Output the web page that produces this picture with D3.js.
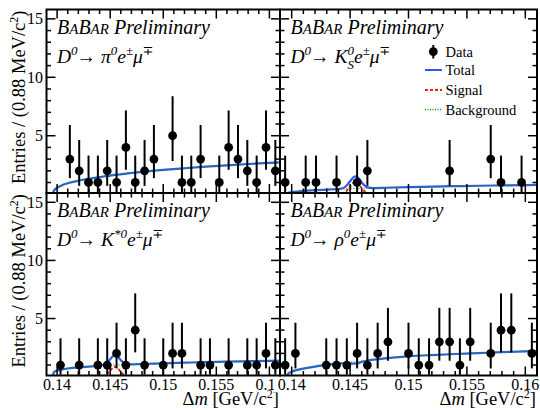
<!DOCTYPE html>
<html>
<head>
<meta charset="utf-8">
<script src="https://cdn.jsdelivr.net/npm/d3@7/dist/d3.min.js"></script>
<style>
  body { margin: 0; background: #fff; }
  svg { display: block; }
  svg text { font-family: "Liberation Serif", "DejaVu Serif", serif; }
</style>
</head>
<body>
<svg id="chart" width="540" height="410"></svg>
<script>
// histogram binning (0.88 MeV bins)
const binStart = 0.139;
const binWidth = 0.00088;
const xDomain = [0.139, 0.161];
const yDomain = [0.1, 15.8];

// entries per bin
const countsPi0 = [0, 0, 3, 2, 1, 1, 2, 1, 4, 1, 2, 3, 0, 5, 1, 1, 3, 0, 1, 4, 3, 2, 1, 4, 2];
const countsKs = [1, 0, 1, 1, 0, 1, 0, 1, 2, 0, 0, 0, 0, 0, 0, 0, 2, 0, 0, 0, 3, 1, 0, 1, 0];
const countsKst = [0, 1, 0, 1, 0, 1, 1, 2, 1, 4, 1, 0, 1, 2, 2, 0, 1, 1, 0, 1, 0, 1, 1, 2, 1];
const countsRho = [1, 2, 0, 0, 1, 1, 1, 2, 1, 2, 3, 0, 2, 1, 1, 3, 3, 1, 3, 0, 2, 4, 4, 0, 2];

// poisson error bars, indexed by count
const errLow = [0, 0.83, 1.29, 1.63, 1.91, 2.16];
const errHigh = [0, 2.30, 2.64, 2.92, 3.16, 3.38];

// fit curves
const fitGrid = [0.13957, 0.1397, 0.1400, 0.1405, 0.1410, 0.1420, 0.1430, 0.1440, 0.1445, 0.1450, 0.1453, 0.1455,
  0.1457, 0.1460, 0.1465, 0.1470, 0.1480, 0.1500, 0.1520, 0.1540, 0.1560, 0.1580, 0.1600, 0.1620];

const totPi0 = [0, 0.30, 0.55, 0.78, 0.93, 1.15, 1.32, 1.46, 1.53, 1.59, 1.63, 1.65, 1.67, 1.70, 1.76, 1.81, 1.91, 2.08, 2.22, 2.35, 2.47, 2.58, 2.68, 2.77];
const sigPi0 = [0, 0, 0, 0, 0, 0, 0, 0, 0, 0, 0, 0, 0, 0, 0, 0, 0, 0, 0, 0, 0, 0, 0, 0];
const bkgPi0 = [0, 0.30, 0.55, 0.78, 0.93, 1.15, 1.32, 1.46, 1.53, 1.59, 1.63, 1.65, 1.67, 1.70, 1.76, 1.81, 1.91, 2.08, 2.22, 2.35, 2.47, 2.58, 2.68, 2.77];

const totKs = [0, 0.11, 0.17, 0.23, 0.28, 0.34, 0.39, 0.44, 0.56, 1.10, 1.46, 1.52, 1.39, 1.00, 0.58, 0.52, 0.55, 0.60, 0.64, 0.68, 0.72, 0.75, 0.78, 0.81];
const sigKs = [0, 0, 0, 0, 0, 0, 0, 0.01, 0.11, 0.64, 0.99, 1.04, 0.90, 0.50, 0.07, 0, 0, 0, 0, 0, 0, 0, 0, 0];
const bkgKs = [0, 0.11, 0.17, 0.23, 0.28, 0.34, 0.39, 0.43, 0.45, 0.46, 0.47, 0.48, 0.49, 0.50, 0.51, 0.52, 0.55, 0.60, 0.64, 0.68, 0.72, 0.75, 0.78, 0.81];

const totKst = [0, 0.38, 0.52, 0.63, 0.70, 0.80, 0.87, 0.94, 1.04, 1.50, 1.79, 1.84, 1.74, 1.42, 1.10, 1.06, 1.09, 1.15, 1.20, 1.25, 1.29, 1.33, 1.36, 1.39];
const sigKst = [0, 0, 0, 0, 0, 0, 0, 0.01, 0.09, 0.52, 0.80, 0.84, 0.73, 0.40, 0.06, 0, 0, 0, 0, 0, 0, 0, 0, 0];
const bkgKst = [0, 0.38, 0.52, 0.63, 0.70, 0.80, 0.87, 0.93, 0.95, 0.98, 0.99, 1.00, 1.01, 1.02, 1.04, 1.06, 1.09, 1.15, 1.20, 1.25, 1.29, 1.33, 1.36, 1.39];

const totRho = [0, 0.25, 0.42, 0.58, 0.69, 0.87, 1.01, 1.12, 1.16, 1.14, 1.12, 1.13, 1.17, 1.27, 1.39, 1.46, 1.58, 1.75, 1.86, 1.95, 2.03, 2.11, 2.18, 2.25];
const sigRho = [0, 0, 0, 0, 0, 0, 0, 0, -0.02, -0.09, -0.14, -0.15, -0.13, -0.07, -0.01, 0, 0, 0, 0, 0, 0, 0, 0, 0];
const bkgRho = [0, 0.25, 0.42, 0.58, 0.69, 0.87, 1.01, 1.12, 1.18, 1.23, 1.26, 1.28, 1.30, 1.34, 1.40, 1.46, 1.58, 1.75, 1.86, 1.95, 2.03, 2.11, 2.18, 2.25];

// axis ticks
const xMajor = [0.14, 0.145, 0.15, 0.155, 0.16];
const xMinor = d3.range(0.139, 0.1615, 0.001);
const yMajor = [5, 10, 15];
const yMinor = d3.range(1, 16, 1);

// decay labels: [text, style] pieces
const labelPi0 = [['D', ''], ['0', 'sup'], ['\u2192 ', 'up'], ['\u03c0', ''], ['0', 'sup'], ['e', ''], ['\u00b1', 'sup'], ['\u03bc', ''], ['\u2213', 'sup']];
const labelKs = [['D', ''], ['0', 'sup'], ['\u2192 ', 'up'], ['K', ''], ['0', 'sup'], ['S', 'sub'], ['e', ''], ['\u00b1', 'sup'], ['\u03bc', ''], ['\u2213', 'sup']];
const labelKst = [['D', ''], ['0', 'sup'], ['\u2192 ', 'up'], ['K', ''], ['*0', 'sup'], ['e', ''], ['\u00b1', 'sup'], ['\u03bc', ''], ['\u2213', 'sup']];
const labelRho = [['D', ''], ['0', 'sup'], ['\u2192 ', 'up'], ['\u03c1', ''], ['0', 'sup'], ['e', ''], ['\u00b1', 'sup'], ['\u03bc', ''], ['\u2213', 'sup']];

const serif = '"Liberation Serif", "DejaVu Serif", serif';
const colTotal = '#3355ff';
const colSignal = '#ff1a1a';
const colBkg = '#00a000';

const svg = d3.select('#chart').attr('font-family', serif);

const panels = [
  { id: 'pi0', x0: 46.5, x1: 280, y0: 9.5, y1: 193, counts: countsPi0, tot: totPi0, sig: sigPi0, bkg: bkgPi0, label: labelPi0, left: true, bottom: false },
  { id: 'ks', x0: 280, x1: 537, y0: 9.5, y1: 193, counts: countsKs, tot: totKs, sig: sigKs, bkg: bkgKs, label: labelKs, left: false, bottom: false, legend: true },
  { id: 'kst', x0: 46.5, x1: 280, y0: 193, y1: 375.5, counts: countsKst, tot: totKst, sig: sigKst, bkg: bkgKst, label: labelKst, left: true, bottom: true },
  { id: 'rho', x0: 280, x1: 537, y0: 193, y1: 375.5, counts: countsRho, tot: totRho, sig: sigRho, bkg: bkgRho, label: labelRho, left: false, bottom: true },
];

function drawCurves(g, p, x, y) {
  const line = d3.line()
    .x(d => x(d[0]))
    .y(d => y(d[1]))
    .curve(d3.curveMonotoneX);
  const curves = g.append('g').attr('clip-path', `url(#clip-${p.id})`);
  curves.append('path')
    .attr('d', line(d3.zip(fitGrid, p.tot)))
    .attr('fill', 'none')
    .attr('stroke', colTotal)
    .attr('stroke-width', 2.2);
  curves.append('path')
    .attr('d', line(d3.zip(fitGrid, p.sig)))
    .attr('fill', 'none')
    .attr('stroke', colSignal)
    .attr('stroke-width', 2)
    .attr('stroke-dasharray', '3,2');
  curves.append('path')
    .attr('d', line(d3.zip(fitGrid, p.bkg)))
    .attr('fill', 'none')
    .attr('stroke', colBkg)
    .attr('stroke-width', 1.2)
    .attr('stroke-dasharray', '1,1.5');
}

function drawData(g, p, x, y) {
  const pts = p.counts
    .map((n, i) => ({ n, c: binStart + binWidth * (i + 0.5) }))
    .filter(d => d.n > 0);
  const pg = g.append('g').attr('class', 'data');
  pg.selectAll('line')
    .data(pts)
    .enter()
    .append('line')
    .attr('x1', d => x(d.c))
    .attr('x2', d => x(d.c))
    .attr('y1', d => y(Math.max(d.n - errLow[d.n], yDomain[0])))
    .attr('y2', d => y(d.n + errHigh[d.n]))
    .attr('stroke', '#000')
    .attr('stroke-width', 2);
  pg.selectAll('circle')
    .data(pts)
    .enter()
    .append('circle')
    .attr('cx', d => x(d.c))
    .attr('cy', d => y(d.n))
    .attr('r', 4.4)
    .attr('fill', '#000');
}

function drawTicks(g, p, x, y) {
  const t = g.append('g').attr('stroke', '#000').attr('stroke-width', 1.5);
  const xt = xMinor.map(v => ({ v, len: xMajor.some(m => Math.abs(m - v) < 1e-6) ? 9 : 4.5 }));
  const yt = yMinor.map(v => ({ v, len: yMajor.includes(v) ? 9 : 4.5 }));
  xt.filter(d => x(d.v) > p.x0 + 1 && x(d.v) < p.x1 - 1).forEach((d) => {
    t.append('line').attr('x1', x(d.v)).attr('x2', x(d.v)).attr('y1', p.y1).attr('y2', p.y1 - d.len);
    t.append('line').attr('x1', x(d.v)).attr('x2', x(d.v)).attr('y1', p.y0).attr('y2', p.y0 + d.len);
  });
  yt.filter(d => y(d.v) > p.y0 + 1 && y(d.v) < p.y1 - 1).forEach((d) => {
    t.append('line').attr('x1', p.x0).attr('x2', p.x0 + d.len).attr('y1', y(d.v)).attr('y2', y(d.v));
    t.append('line').attr('x1', p.x1).attr('x2', p.x1 - d.len).attr('y1', y(d.v)).attr('y2', y(d.v));
  });
}

function drawAxisLabels(g, p, x, y) {
  if (p.left) {
    g.selectAll('.ylab')
      .data(yMajor)
      .enter()
      .append('text')
      .attr('class', 'ylab')
      .attr('x', p.x0 - 3.5)
      .attr('y', d => y(d))
      .attr('dy', '0.35em')
      .attr('text-anchor', 'end')
      .attr('font-size', 16)
      .text(d => d);
    g.append('text')
      .attr('transform', `translate(25, ${p.y0 + 1}) rotate(-90)`)
      .attr('text-anchor', 'end')
      .attr('font-size', 18.5)
      .call((txt) => {
        txt.append('tspan').text('Entries / (0.88 MeV/c');
        txt.append('tspan').attr('font-size', 12).attr('dy', -7).text('2');
        txt.append('tspan').attr('dy', 7).text(')');
      });
  }
  if (p.bottom) {
    if (!p.left) {
      // right pad covers the overhanging last label of the left pad
      g.append('rect')
        .attr('x', 274).attr('y', p.y1 + 2)
        .attr('width', 540 - 274).attr('height', 15)
        .attr('fill', '#fff');
    }
    g.selectAll('.xlab')
      .data(xMajor)
      .enter()
      .append('text')
      .attr('class', 'xlab')
      .attr('x', d => x(d))
      .attr('y', 390)
      .attr('text-anchor', 'middle')
      .attr('font-size', 16)
      .text(d => d3.format('')(d));
    g.append('text')
      .attr('x', p.x1 - 1)
      .attr('y', 405)
      .attr('text-anchor', 'end')
      .attr('font-size', 18.5)
      .call((txt) => {
        txt.append('tspan').text('\u0394');
        txt.append('tspan').attr('font-style', 'italic').text('m');
        txt.append('tspan').text(' [GeV/c');
        txt.append('tspan').attr('font-size', 12).attr('dy', -7).text('2');
        txt.append('tspan').attr('dy', 7).text(']');
      });
  }
}

function drawTitle(g, p) {
  const tx = p.x0 + 10.5;
  const title = g.append('text')
    .attr('x', tx)
    .attr('y', p.y0 + 24)
    .attr('font-style', 'italic')
    .attr('font-size', 20);
  title.append('tspan').text('B');
  title.append('tspan').attr('font-size', 15).text('A');
  title.append('tspan').text('B');
  title.append('tspan').attr('font-size', 15).text('AR');
  title.append('tspan').text(' Preliminary');

  const decay = g.append('text')
    .attr('x', tx)
    .attr('y', p.y0 + 53)
    .attr('font-style', 'italic')
    .attr('font-size', 19.5);
  let shift = 0;
  let lastSupWidth = 0;
  p.label.forEach(([s, kind]) => {
    const span = decay.append('tspan').text(s);
    if (kind === 'sup') {
      span.attr('font-size', 13).attr('dy', -8 - shift);
      shift = -8;
      lastSupWidth = 6.5 * s.length;
    } else if (kind === 'sub') {
      span.attr('font-size', 13).attr('dy', 14).attr('dx', -lastSupWidth);
      shift = 6;
    } else {
      span.attr('dy', -shift);
      shift = 0;
      if (kind === 'up') span.attr('font-style', 'normal').attr('dx', -1);
    }
  });
}

function drawLegend(g) {
  const lx = 425;
  const tx = 445.5;
  const leg = g.append('g').attr('font-size', 14.5);
  leg.append('line').attr('x1', 433.3).attr('x2', 433.3).attr('y1', 45).attr('y2', 58.5)
    .attr('stroke', '#000').attr('stroke-width', 2);
  leg.append('circle').attr('cx', 433.3).attr('cy', 51.7).attr('r', 4.4).attr('fill', '#000');
  leg.append('text').attr('x', tx).attr('y', 56.5).text('Data');
  leg.append('line').attr('x1', lx).attr('x2', lx + 17).attr('y1', 70).attr('y2', 70)
    .attr('stroke', colTotal).attr('stroke-width', 2);
  leg.append('text').attr('x', tx).attr('y', 75).text('Total');
  leg.append('line').attr('x1', lx).attr('x2', lx + 17).attr('y1', 90).attr('y2', 90)
    .attr('stroke', colSignal).attr('stroke-width', 2).attr('stroke-dasharray', '3,2');
  leg.append('text').attr('x', tx).attr('y', 95).text('Signal');
  leg.append('line').attr('x1', lx).attr('x2', lx + 17).attr('y1', 109.5).attr('y2', 109.5)
    .attr('stroke', colBkg).attr('stroke-width', 1.5).attr('stroke-dasharray', '1,1.5');
  leg.append('text').attr('x', tx).attr('y', 114.5).text('Background');
}

function createPanel(p) {
  const x = d3.scaleLinear().domain(xDomain).range([p.x0, p.x1]);
  const y = d3.scaleLinear().domain(yDomain).range([p.y1, p.y0]);
  const g = svg.append('g').attr('class', `panel panel--${p.id}`);

  svg.append('defs').append('clipPath')
    .attr('id', `clip-${p.id}`)
    .append('rect')
    .attr('x', p.x0).attr('y', p.y0)
    .attr('width', p.x1 - p.x0).attr('height', p.y1 - p.y0);

  drawAxisLabels(g, p, x, y);
  drawCurves(g, p, x, y);
  drawData(g, p, x, y);
  drawTicks(g, p, x, y);
  g.append('rect')
    .attr('x', p.x0).attr('y', p.y0)
    .attr('width', p.x1 - p.x0).attr('height', p.y1 - p.y0)
    .attr('fill', 'none')
    .attr('stroke', '#000')
    .attr('stroke-width', 2);
  drawTitle(g, p);
  if (p.legend) drawLegend(g);
}

panels.forEach(createPanel);
</script>
</body>
</html>
